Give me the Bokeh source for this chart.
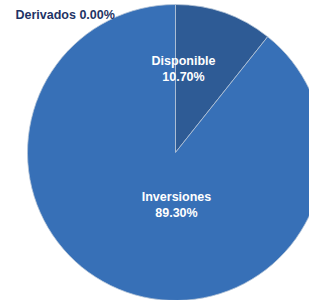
import math
from bokeh.plotting import figure
from bokeh.models import Range1d, ColumnDataSource
from bokeh.core.properties import value
from bokeh.embed import file_html
from bokeh.resources import INLINE

# ---- data ----
categories = ["Disponible", "Inversiones", "Derivados"]
percent = [10.70, 89.30, 0.00]
colors = ["#2e5b95", "#3770b7", "#1f3466"]

# ---- layout (pixel-like data coordinates) ----
W, H = 309, 300
cx, cy, R = 175, 300 - 152, 148
label_pos = {"Disponible": (183, 300 - 68.5), "Inversiones": (176, 300 - 204.5)}

p = figure(width=W, height=H, output_backend="svg", toolbar_location=None,
           x_range=Range1d(0, W), y_range=Range1d(300 - H, 300),
           min_border=0, outline_line_color=None)
p.axis.visible = False
p.grid.visible = False
p.background_fill_color = "white"
p.border_fill_color = "white"

total = sum(percent)
starts, ends, cats, cols = [], [], [], []
a = math.pi / 2
for c, v, col in zip(categories, percent, colors):
    s = a
    a -= 2 * math.pi * v / total
    if v > 0:
        starts.append(s)
        ends.append(a)
        cats.append(c)
        cols.append(col)

src = ColumnDataSource(dict(cat=cats, start=starts, end=ends, color=cols,
                            x=[cx] * len(cats), y=[cy] * len(cats)))
p.wedge(x="x", y="y", radius=R, start_angle="start", end_angle="end",
        direction="clock", fill_color="color", line_color="#b8c6d8",
        line_width=0.8, source=src)

inside = [c for c in categories if c in label_pos]
p.text(x=[label_pos[c][0] for c in inside], y=[label_pos[c][1] for c in inside],
       text=[f"{c}\n{v:.2f}%" for c, v in zip(categories, percent) if c in label_pos],
       text_align="center", text_baseline="middle", text_color="white",
       text_font=value("Liberation Sans"), text_font_style="bold",
       text_font_size="12.5px", text_line_height=1.2)

outside = [(c, v) for c, v in zip(categories, percent) if c not in label_pos]
p.text(x=[15] * len(outside), y=[300 - 14] * len(outside),
       text=[f"{c} {v:.2f}%" for c, v in outside],
       text_align="left", text_baseline="middle", text_color="#1f3466",
       text_font=value("Liberation Sans"), text_font_style="bold",
       text_font_size="12.5px")

open("out.html", "w").write(file_html(p, INLINE))
